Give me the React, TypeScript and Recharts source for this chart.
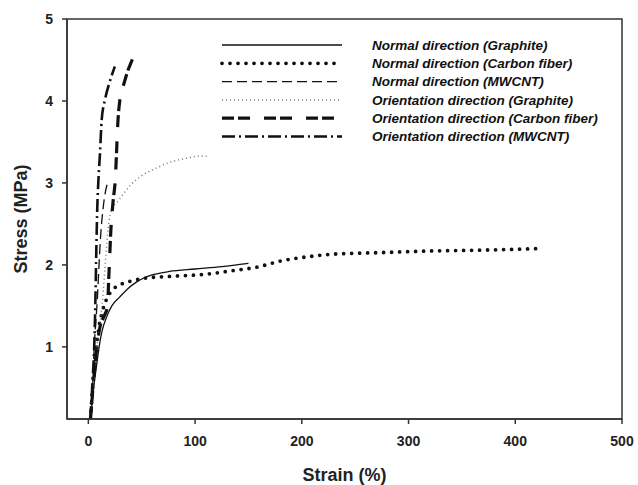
import { LineChart, Line, XAxis, YAxis, Legend, ReferenceArea } from "recharts"

// strain (%) / stress (MPa)
const normalGraphiteStrain = [2, 5, 8, 10.2, 13, 17, 22, 29.5, 37, 45, 52, 60.5, 76, 100, 125, 150]
const normalGraphiteStress = [0.12, 0.5, 0.8, 1.01, 1.2, 1.36, 1.5, 1.61, 1.71, 1.79, 1.84, 1.88, 1.92, 1.95, 1.98, 2.02]

const normalCarbonStrain = [2, 4, 6, 7.8, 10, 12.5, 17, 23, 30, 39, 54, 76, 113, 135, 157, 181, 206, 228, 274, 321, 368, 425]
const normalCarbonStress = [0.12, 0.5, 0.8, 1.01, 1.25, 1.4, 1.58, 1.7, 1.76, 1.8, 1.84, 1.86, 1.89, 1.93, 1.97, 2.05, 2.1, 2.13, 2.15, 2.17, 2.18, 2.2]

const normalMwcntStrain = [2, 4, 5.5, 7, 8.5, 10, 11.5, 14, 18.6]
const normalMwcntStress = [0.12, 0.5, 1.0, 1.3, 1.6, 2.0, 2.35, 2.71, 3.03]

const orientGraphiteStrain = [2, 5, 8, 11, 13.5, 15.5, 17.5, 19.5, 23, 28, 33, 40, 48, 63.6, 76, 91.5, 105.5, 113]
const orientGraphiteStress = [0.12, 0.6, 1.0, 1.3, 1.6, 1.95, 2.3, 2.55, 2.7, 2.78, 2.87, 2.98, 3.07, 3.18, 3.25, 3.3, 3.33, 3.32]

const orientCarbonStrain = [2, 5, 8, 11, 15, 18, 19, 20, 21, 23, 25.5, 26.5, 27.5, 29.5, 32, 34, 37, 40.4, 43.4]
const orientCarbonStress = [0.12, 0.6, 1.0, 1.25, 1.38, 1.5, 1.8, 2.1, 2.4, 2.75, 3.1, 3.4, 3.7, 4.01, 4.15, 4.24, 4.37, 4.48, 4.58]

const orientMwcntStrain = [2, 4, 5.5, 6.5, 7.5, 8.4, 9.5, 10.9, 12.5, 15.5, 20.2, 24.8]
const orientMwcntStress = [0.12, 0.6, 1.0, 1.5, 2.2, 2.71, 3.05, 3.36, 3.77, 4.01, 4.24, 4.42]

const xTicks = [0, 100, 200, 300, 400, 500]
const yTicks = [1, 2, 3, 4, 5]

const FONT = "'Liberation Sans', Arial, sans-serif"

const toPoints = (xs: number[], ys: number[]) => xs.map((x, i) => ({ x, y: ys[i] }))

const series = [
  { name: "Normal direction (Graphite)", data: toPoints(normalGraphiteStrain, normalGraphiteStress), stroke: "#111", width: 1.3, dash: undefined, cap: "butt" },
  { name: "Normal direction (Carbon fiber)", data: toPoints(normalCarbonStrain, normalCarbonStress), stroke: "#111", width: 3.8, dash: "0 8", cap: "round" },
  { name: "Normal direction (MWCNT)", data: toPoints(normalMwcntStrain, normalMwcntStress), stroke: "#111", width: 1.3, dash: "10 5", cap: "butt" },
  { name: "Orientation direction (Graphite)", data: toPoints(orientGraphiteStrain, orientGraphiteStress), stroke: "#777", width: 1.5, dash: "1 3", cap: "butt" },
  { name: "Orientation direction (Carbon fiber)", data: toPoints(orientCarbonStrain, orientCarbonStress), stroke: "#111", width: 3.2, dash: "12 4 12 14", cap: "butt" },
  { name: "Orientation direction (MWCNT)", data: toPoints(orientMwcntStrain, orientMwcntStress), stroke: "#111", width: 2.6, dash: "13 4 2 4", cap: "butt" },
]

function LegendBox() {
  return (
    <svg width={400} height={115}>
      {series.map((s, i) => {
        const y = 9 + i * 18.3
        return (
          <g key={s.name}>
            <line
              x1={7}
              x2={127}
              y1={y}
              y2={y}
              stroke={s.stroke}
              strokeWidth={s.width}
              strokeDasharray={s.dash}
              strokeLinecap={s.cap as any}
            />
            <text
              x={157}
              y={y}
              dy="0.35em"
              fontFamily={FONT}
              fontSize={13.5}
              fontWeight="bold"
              fontStyle="italic"
              fill="#111"
            >
              {s.name}
            </text>
          </g>
        )
      })}
    </svg>
  )
}

export default function App() {
  const tickStyle = { fontFamily: FONT, fontSize: 14, fontWeight: "bold", fill: "#222" }

  return (
    <div style={{ position: "absolute", left: 0, top: 0, width: 638, height: 485, background: "#fff" }}>
      <LineChart width={638} height={485} margin={{ top: 19, right: 16, left: 0, bottom: 0 }}>
        <XAxis
          dataKey="x"
          type="number"
          domain={[-20, 500]}
          ticks={xTicks}
          allowDataOverflow
          height={66}
          tickSize={5}
          tickMargin={12}
          stroke="#333"
          strokeWidth={1.5}
          tick={tickStyle}
          label={{
            value: "Strain (%)",
            position: "insideBottom",
            offset: 4,
            style: { fontFamily: FONT, fontSize: 18, fontWeight: "bold", fill: "#222" },
          }}
        />
        <YAxis
          type="number"
          domain={[0.12, 5]}
          ticks={yTicks}
          allowDataOverflow
          width={67}
          tickSize={5}
          tickMargin={9}
          stroke="#333"
          strokeWidth={1.5}
          tick={tickStyle}
          label={{
            value: "Stress (MPa)",
            angle: -90,
            position: "insideLeft",
            offset: 21,
            style: { fontFamily: FONT, fontSize: 18, fontWeight: "bold", fill: "#222", textAnchor: "middle" },
          }}
        />
        <ReferenceArea x1={-20} x2={500} y1={0.12} y2={5} fill="none" stroke="#333" strokeWidth={1.5} />
        {series.map((s) => (
          <Line
            key={s.name}
            data={s.data}
            dataKey="y"
            name={s.name}
            type="monotone"
            stroke={s.stroke}
            strokeWidth={s.width}
            strokeDasharray={s.dash}
            strokeLinecap={s.cap as any}
            dot={false}
            activeDot={false}
            isAnimationActive={false}
          />
        ))}
        <Legend
          layout="vertical"
          align="center"
          verticalAlign="middle"
          wrapperStyle={{ left: 215, top: 36, width: 400, height: 115 }}
          content={() => <LegendBox />}
        />
      </LineChart>
    </div>
  )
}
